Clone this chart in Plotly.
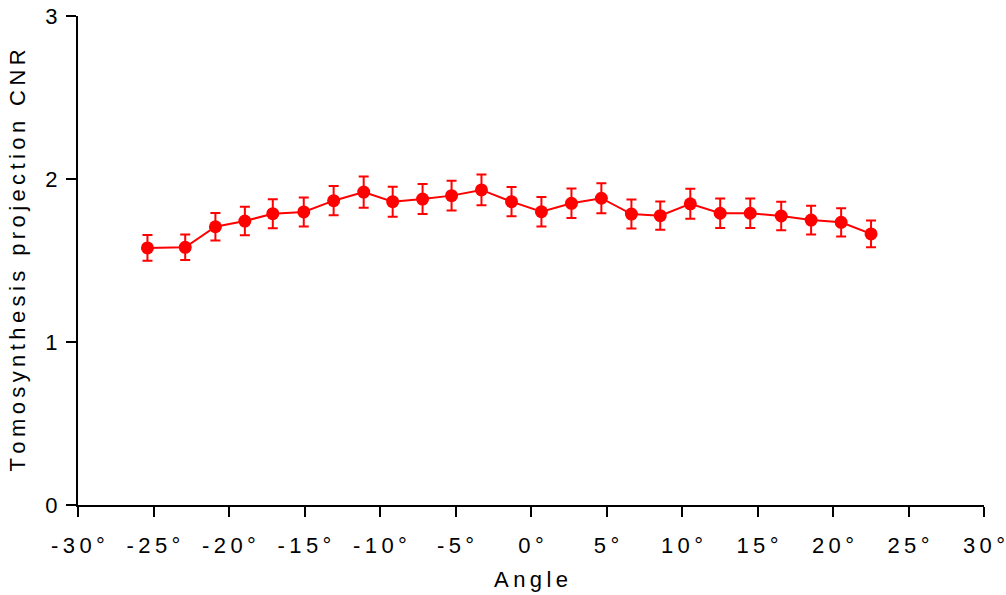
import plotly.graph_objects as go

angles = [-25.4, -22.9, -20.9, -18.95, -17.1, -15.05, -13.07, -11.08, -9.16, -7.18,
          -5.26, -3.28, -1.29, 0.69, 2.68, 4.66, 6.65, 8.56, 10.55, 12.53,
          14.52, 16.57, 18.55, 20.54, 22.52]
cnr = [1.577, 1.581, 1.707, 1.742, 1.787, 1.798, 1.867, 1.920, 1.861, 1.877,
       1.898, 1.933, 1.861, 1.799, 1.851, 1.882, 1.785, 1.775, 1.848, 1.790,
       1.790, 1.773, 1.748, 1.734, 1.663]
err = [0.079, 0.078, 0.085, 0.087, 0.089, 0.089, 0.090, 0.096, 0.092, 0.092,
       0.092, 0.094, 0.090, 0.090, 0.091, 0.092, 0.089, 0.087, 0.092, 0.090,
       0.090, 0.087, 0.088, 0.086, 0.082]

x_ticks = [-30, -25, -20, -15, -10, -5, 0, 5, 10, 15, 20, 25, 30]
y_ticks = [0, 1, 2, 3]

TS = "\u2009"


def spaced(s):
    return TS.join(list(s))


x_ticktext = [spaced(f"{v}°") for v in x_ticks]
y_ticktext = [str(v) for v in y_ticks]

fig = go.Figure()
fig.add_trace(go.Scatter(
    x=angles, y=cnr, mode="lines+markers",
    line=dict(color="#ff0000", width=2),
    marker=dict(color="#ff0000", size=13),
    error_y=dict(type="data", array=err, visible=True, color="#ff0000",
                 thickness=2, width=5),
    showlegend=False,
))

font = dict(family="Liberation Sans, Arial, sans-serif", size=22, color="#000000")

fig.update_layout(
    width=1006, height=595,
    margin=dict(l=78, r=22, t=16, b=90),
    paper_bgcolor="white", plot_bgcolor="white",
    font=font,
    xaxis=dict(
        range=[-30, 30], tickvals=x_ticks, ticktext=x_ticktext, automargin=False,
        showgrid=False, zeroline=False, showline=True, linecolor="black",
        linewidth=2, ticks="outside", ticklen=10, tickwidth=2, tickcolor="black",
        ticklabelstandoff=10,
        title=dict(text=spaced("Angle"), font=font, standoff=14),
        tickfont=font,
    ),
    yaxis=dict(
        range=[0, 3], tickvals=y_ticks, ticktext=y_ticktext, automargin=False,
        showgrid=False, zeroline=False, showline=True, linecolor="black",
        linewidth=2, ticks="outside", ticklen=10, tickwidth=2, tickcolor="black",
        ticklabelstandoff=4,
        title=dict(text=spaced("Tomosynthesis projection CNR"), font=font, standoff=14),
        tickfont=font,
    ),
)

fig.write_html("out.html")
